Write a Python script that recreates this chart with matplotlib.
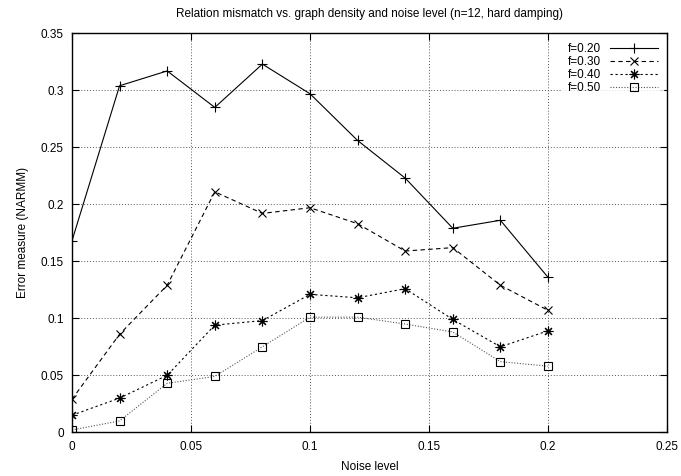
import matplotlib
matplotlib.use("Agg")
import matplotlib.pyplot as plt

plt.rcParams['font.family'] = ['Liberation Sans', 'DejaVu Sans']

noise = [0.0, 0.02, 0.04, 0.06, 0.08, 0.10, 0.12, 0.14, 0.16, 0.18, 0.20]
f020 = [0.168, 0.304, 0.317, 0.285, 0.323, 0.297, 0.256, 0.223, 0.179, 0.186, 0.136]
f030 = [0.029, 0.086, 0.129, 0.211, 0.192, 0.197, 0.183, 0.159, 0.162, 0.129, 0.107]
f040 = [0.015, 0.030, 0.050, 0.094, 0.098, 0.121, 0.118, 0.126, 0.099, 0.075, 0.089]
f050 = [0.002, 0.010, 0.043, 0.049, 0.075, 0.101, 0.101, 0.095, 0.088, 0.062, 0.058]
labels = ['f=0.20', 'f=0.30', 'f=0.40', 'f=0.50']
xticks = [0, 0.05, 0.1, 0.15, 0.2, 0.25]
yticks = [0, 0.05, 0.1, 0.15, 0.2, 0.25, 0.3, 0.35]

fig = plt.figure(figsize=(6.81, 4.76), dpi=100)
ax = fig.add_axes([0.1057, 0.0918, 0.9794 - 0.1057, 0.930 - 0.0918])

lw = 0.8
ax.plot(noise, f020, color='black', lw=lw, ls='-', marker='+', ms=7, mew=0.8, label=labels[0])
ax.plot(noise, f030, color='black', lw=lw, ls=(0, (4, 3)), marker='x', ms=6, mew=0.8, label=labels[1])
ax.plot(noise, f040, color='black', lw=lw, ls=(0, (2, 2.5)), marker=(8, 2, 0), ms=7, mew=0.8, label=labels[2])
ax.plot(noise, f050, color='#555555', lw=lw, ls=(0, (1, 1.5)), marker='s', ms=6, mew=0.8,
        mfc='none', mec='black', label=labels[3])

ax.set_xlim(0, 0.25)
ax.set_ylim(0, 0.35)
ax.set_xticks(xticks)
ax.set_xticklabels(['0', '0.05', '0.1', '0.15', '0.2', '0.25'])
ax.set_yticks(yticks)
ax.set_yticklabels(['0', '0.05', '0.1', '0.15', '0.2', '0.25', '0.3', '0.35'])
ax.tick_params(direction='in', length=5, width=0.8, top=True, right=True, labelsize=8.5, pad=6)
ax.grid(True, color='#555555', ls=(0, (1, 2)), lw=0.7)
for s in ax.spines.values():
    s.set_linewidth(1.0)

ax.set_xlabel('Noise level', fontsize=8.5, labelpad=6)
ax.set_ylabel('Error measure (NARMM)', fontsize=8.5, labelpad=8)
ax.set_title('Relation mismatch vs. graph density and noise level (n=12, hard damping)', fontsize=8.5, pad=12)

leg = ax.legend(loc='upper right', frameon=True, markerfirst=False, fontsize=8.5, numpoints=1,
                handlelength=4.0, handletextpad=0.8, labelspacing=0.1,
                borderpad=0.5, borderaxespad=0.3, fancybox=False)
leg.get_frame().set_facecolor('white')
leg.get_frame().set_edgecolor('white')

fig.savefig('out.png', dpi=100)
